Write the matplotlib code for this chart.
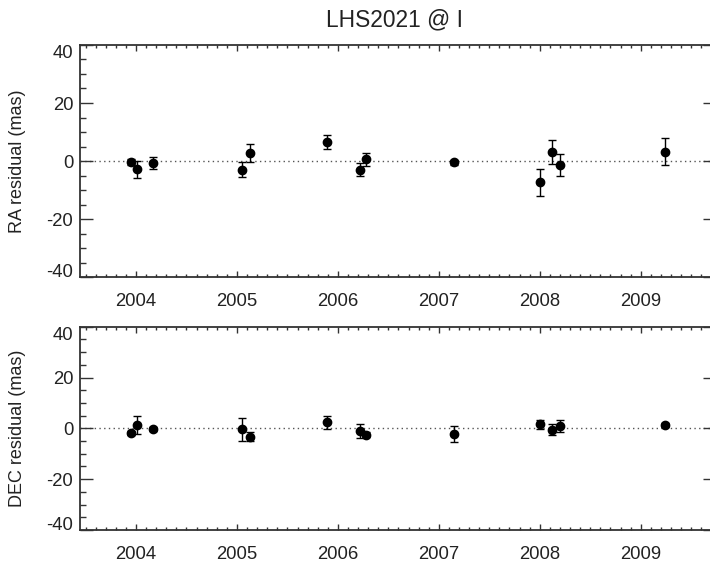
import matplotlib
matplotlib.use("Agg")
import matplotlib.pyplot as plt
from matplotlib.ticker import MultipleLocator

plt.rcParams["font.family"] = ["Liberation Sans", "DejaVu Sans"]
plt.rcParams["axes.unicode_minus"] = False

title = "LHS2021 @ I"
epochs = [2003.95, 2004.007, 2004.17, 2005.053, 2005.13, 2005.895, 2006.216,
          2006.276, 2007.153, 2008.0, 2008.121, 2008.2, 2009.24]
ra_res = [-0.3, -2.9, -0.7, -3.0, 2.7, 6.6, -3.0, 0.6, -0.4, -7.3, 3.2, -1.4, 3.2]
ra_err = [1.1, 2.9, 2.1, 2.5, 3.0, 2.5, 2.3, 2.2, 0.9, 4.7, 4.1, 3.7, 4.7]
dec_res = [-1.8, 1.3, -0.3, -0.4, -3.3, 2.4, -1.0, -2.5, -2.2, 1.6, -0.6, 0.9, 1.4]
dec_err = [0.8, 3.6, 0.8, 4.5, 1.8, 2.5, 2.8, 1.0, 3.2, 1.8, 2.2, 2.3, 0.8]
year_ticks = [2004, 2005, 2006, 2007, 2008, 2009]
y_ticks = [-40, -20, 0, 20, 40]
ylabels = ["RA residual (mas)", "DEC residual (mas)"]

W, H = 710, 565
fig = plt.figure(figsize=(W / 100, H / 100), dpi=100)

TXT = "#222222"
SP = "#333333"
x_left, x_right = 79.5, 716.0
px_per_year = 100.94
xmin = 2004 - (136 - x_left) / px_per_year
xmax = 2009 + (x_right - 640.7) / px_per_year

panels = [(45.0, 277.0), (326.7, 530.0)]
series = [(ra_res, ra_err), (dec_res, dec_err)]

for i, ((top, bot), (vals, errs)) in enumerate(zip(panels, series)):
    ax = fig.add_axes([x_left / W, 1 - bot / H, (x_right - x_left) / W, (bot - top) / H])
    ax.axhline(0, color="#555555", lw=1.0, ls=(0, (1, 2.4)), zorder=1)
    ax.errorbar(epochs, vals, yerr=errs, fmt="o", color="black", ms=6.0,
                elinewidth=1.0, capsize=3.0, capthick=1.0, zorder=3)
    ax.set_xlim(xmin, xmax)
    ax.set_ylim(-40, 40)
    ax.set_xticks(year_ticks)
    ax.set_xticklabels([str(y) for y in year_ticks])
    ax.set_yticks(y_ticks)
    ax.set_yticklabels([str(v) for v in y_ticks])
    ax.xaxis.set_minor_locator(MultipleLocator(0.1))
    ax.yaxis.set_minor_locator(MultipleLocator(5))
    ax.tick_params(axis="y", which="major", direction="in", length=9.4, width=1.0,
                   left=True, right=True, labelsize=13.3, pad=4.5, colors=SP, labelcolor=TXT)
    ax.tick_params(axis="y", which="minor", direction="in", length=4.5, width=1.0,
                   left=True, right=True, colors=SP)
    ax.tick_params(axis="x", which="major", direction="in", length=4.3, width=1.0,
                   bottom=True, top=True, labelsize=13.3, pad=11.5, colors=SP, labelcolor=TXT)
    ax.tick_params(axis="x", which="minor", direction="in", length=2.4, width=1.0,
                   bottom=True, top=True, colors=SP)
    for s in ax.spines.values():
        s.set_color(SP)
        s.set_linewidth(1.3)
    ticks = ax.yaxis.get_major_ticks()
    ticks[0].label1.set_va("baseline")
    ticks[-1].label1.set_va("top")
    cy = (top + bot) / 2
    fig.text(18 / W, 1 - cy / H, ylabels[i], rotation=90, ha="center", va="center",
             fontsize=13, color=TXT)

fig.text((x_left + 709) / 2 / W, 1 - 26 / H, title, ha="center", va="baseline",
         fontsize=16.4, color=TXT)

fig.savefig("out.png", dpi=100)
